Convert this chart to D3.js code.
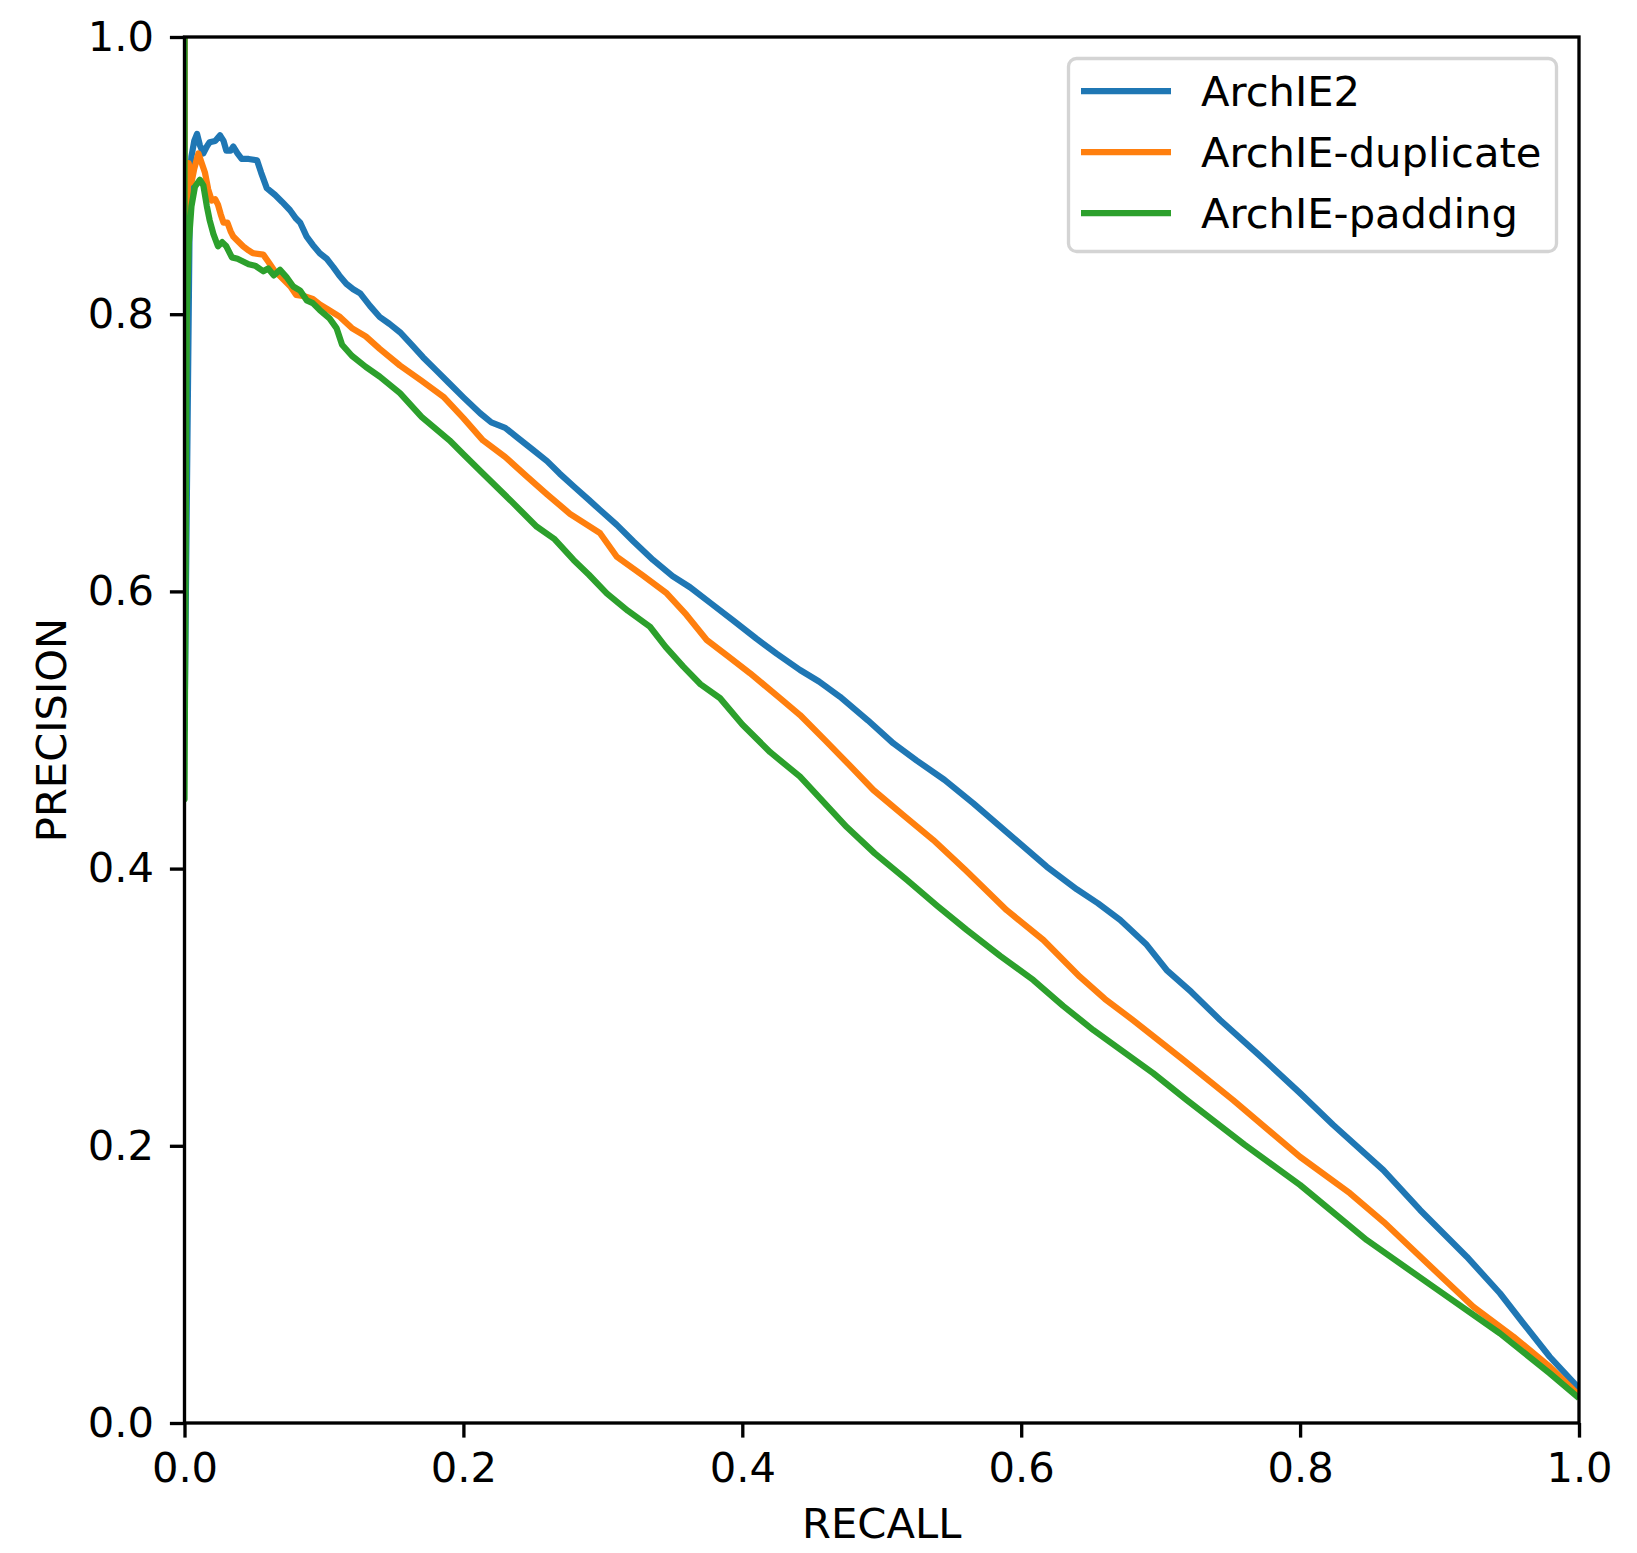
<!DOCTYPE html>
<html>
<head>
<meta charset="utf-8">
<script src="https://cdn.jsdelivr.net/npm/d3@7"></script>
<style>
  body { margin: 0; background: #fff; }
  text { font-family: "DejaVu Sans", sans-serif; fill: #000; }
</style>
</head>
<body>
<div id="chart"></div>
<script>
// series names, legend order
const seriesNames = ['ArchIE2', 'ArchIE-duplicate', 'ArchIE-padding'];
const seriesColors = ['#1f77b4', '#ff7f0e', '#2ca02c'];

// ArchIE2 (recall, precision)
const archie2Recall = [0, 0, 0.004, 0.005, 0.007, 0.009, 0.011, 0.0135, 0.016, 0.018, 0.022, 0.0255, 0.028, 0.030, 0.033, 0.035, 0.038, 0.041, 0.046, 0.052, 0.055, 0.059, 0.065, 0.070, 0.0757, 0.080, 0.083, 0.0876, 0.092, 0.097, 0.102, 0.1067, 0.111, 0.116, 0.121, 0.126, 0.133, 0.140, 0.147, 0.1545, 0.162, 0.171, 0.180, 0.190, 0.200, 0.212, 0.220, 0.230, 0.238, 0.250, 0.260, 0.269, 0.280, 0.290, 0.298, 0.310, 0.322, 0.336, 0.350, 0.3625, 0.378, 0.3935, 0.410, 0.4247, 0.4414, 0.455, 0.470, 0.490, 0.5083, 0.525, 0.545, 0.5657, 0.590, 0.6183, 0.640, 0.655, 0.671, 0.690, 0.7043, 0.722, 0.7426, 0.770, 0.800, 0.8238, 0.8597, 0.886, 0.9195, 0.9433, 0.960, 0.979, 1.0];
const archie2Precision = [1.0, 0.50, 0.90, 0.914, 0.925, 0.930, 0.922, 0.916, 0.921, 0.924, 0.925, 0.929, 0.925, 0.918, 0.918, 0.921, 0.916, 0.912, 0.912, 0.911, 0.902, 0.891, 0.886, 0.881, 0.875, 0.869, 0.866, 0.856, 0.850, 0.844, 0.840, 0.834, 0.828, 0.822, 0.818, 0.815, 0.806, 0.798, 0.793, 0.787, 0.779, 0.769, 0.760, 0.750, 0.740, 0.7285, 0.722, 0.718, 0.7116, 0.702, 0.694, 0.685, 0.675, 0.666, 0.6587, 0.648, 0.636, 0.6227, 0.611, 0.603, 0.591, 0.579, 0.566, 0.555, 0.5433, 0.535, 0.524, 0.507, 0.4904, 0.478, 0.464, 0.4471, 0.426, 0.4014, 0.385, 0.375, 0.3629, 0.345, 0.3268, 0.311, 0.2908, 0.266, 0.238, 0.215, 0.1825, 0.1537, 0.120, 0.0936, 0.072, 0.0478, 0.025];

// ArchIE-duplicate
const duplicateRecall = [0, 0, 0.002, 0.003, 0.005, 0.007, 0.010, 0.012, 0.0147, 0.017, 0.0195, 0.022, 0.024, 0.026, 0.028, 0.0308, 0.033, 0.035, 0.038, 0.042, 0.046, 0.049, 0.0565, 0.060, 0.064, 0.071, 0.076, 0.080, 0.086, 0.092, 0.097, 0.102, 0.1115, 0.120, 0.130, 0.140, 0.1545, 0.170, 0.1856, 0.200, 0.214, 0.230, 0.2454, 0.260, 0.2764, 0.298, 0.310, 0.328, 0.3458, 0.360, 0.3745, 0.390, 0.4055, 0.427, 0.4414, 0.460, 0.4765, 0.494, 0.515, 0.537, 0.560, 0.5896, 0.6159, 0.642, 0.660, 0.680, 0.715, 0.752, 0.800, 0.8358, 0.860, 0.8836, 0.9242, 0.953, 0.979, 1.0];
const duplicatePrecision = [1.0, 0.62, 0.88, 0.909, 0.895, 0.905, 0.916, 0.910, 0.902, 0.890, 0.882, 0.883, 0.879, 0.872, 0.866, 0.866, 0.860, 0.856, 0.853, 0.849, 0.846, 0.844, 0.843, 0.838, 0.832, 0.825, 0.820, 0.814, 0.813, 0.811, 0.807, 0.804, 0.798, 0.790, 0.784, 0.775, 0.763, 0.752, 0.7405, 0.725, 0.709, 0.697, 0.683, 0.670, 0.656, 0.642, 0.625, 0.612, 0.5986, 0.583, 0.565, 0.553, 0.541, 0.523, 0.5108, 0.492, 0.475, 0.4567, 0.439, 0.4206, 0.399, 0.370, 0.3485, 0.322, 0.306, 0.2908, 0.263, 0.233, 0.192, 0.1657, 0.145, 0.1224, 0.0839, 0.0623, 0.0406, 0.020];

// ArchIE-padding
const paddingRecall = [0, 0, 0.0016, 0.003, 0.005, 0.0075, 0.011, 0.0135, 0.016, 0.018, 0.0207, 0.024, 0.027, 0.030, 0.034, 0.038, 0.042, 0.046, 0.0506, 0.0565, 0.060, 0.064, 0.0685, 0.073, 0.078, 0.083, 0.0876, 0.092, 0.097, 0.104, 0.109, 0.113, 0.120, 0.130, 0.140, 0.1545, 0.170, 0.190, 0.200, 0.214, 0.2334, 0.2526, 0.265, 0.279, 0.290, 0.3028, 0.318, 0.3338, 0.345, 0.3577, 0.370, 0.384, 0.400, 0.420, 0.4414, 0.4749, 0.495, 0.518, 0.540, 0.561, 0.585, 0.6087, 0.630, 0.6517, 0.6947, 0.7187, 0.760, 0.800, 0.8478, 0.8955, 0.9433, 0.979, 1.0];
const paddingPrecision = [1.0, 0.45, 0.80, 0.85, 0.878, 0.892, 0.897, 0.893, 0.878, 0.868, 0.858, 0.849, 0.852, 0.849, 0.841, 0.840, 0.838, 0.836, 0.835, 0.831, 0.833, 0.828, 0.832, 0.827, 0.820, 0.817, 0.810, 0.808, 0.803, 0.797, 0.790, 0.778, 0.770, 0.762, 0.755, 0.743, 0.726, 0.709, 0.699, 0.685, 0.666, 0.6467, 0.638, 0.6227, 0.612, 0.5986, 0.586, 0.5745, 0.560, 0.5457, 0.533, 0.523, 0.504, 0.484, 0.4663, 0.430, 0.411, 0.3918, 0.373, 0.3557, 0.337, 0.3196, 0.301, 0.2835, 0.2523, 0.233, 0.201, 0.1717, 0.132, 0.0983, 0.0647, 0.0359, 0.018];

const xTicks = [0, 0.2, 0.4, 0.6, 0.8, 1.0];
const yTicks = [0, 0.2, 0.4, 0.6, 0.8, 1.0];

const series = [
  { name: seriesNames[0], color: seriesColors[0], x: archie2Recall, y: archie2Precision },
  { name: seriesNames[1], color: seriesColors[1], x: duplicateRecall, y: duplicatePrecision },
  { name: seriesNames[2], color: seriesColors[2], x: paddingRecall, y: paddingPrecision }
];

const W = 1637, H = 1553;
const fontSize = 41.67;
const margin = { top: 37, right: 58, bottom: 130, left: 184.5 };
const width = W - margin.left - margin.right;
const height = H - margin.top - margin.bottom;

const svg = d3.select('#chart').append('svg')
  .attr('width', W)
  .attr('height', H);

const g = svg.append('g')
  .attr('transform', `translate(${margin.left}, ${margin.top})`);

const x = d3.scaleLinear().domain([0, 1]).range([0, width]);
const y = d3.scaleLinear().domain([0, 1]).range([height, 0]);

g.append('clipPath').attr('id', 'plotclip')
  .append('rect').attr('width', width).attr('height', height);

// lines
const line = d3.line()
  .x(d => x(d[0]))
  .y(d => y(d[1]));

series.forEach(s => {
  g.append('path')
    .datum(s.x.map((r, i) => [r, s.y[i]]))
    .attr('clip-path', 'url(#plotclip)')
    .attr('fill', 'none')
    .attr('stroke', s.color)
    .attr('stroke-width', 6.25)
    .attr('stroke-linejoin', 'round')
    .attr('d', line);
});

// axes
const fmt = d3.format('.1f');
const xAxis = d3.axisBottom(x).tickValues(xTicks).tickFormat(fmt).tickSize(14.6).tickSizeOuter(0).tickPadding(15);
const yAxis = d3.axisLeft(y).tickValues(yTicks).tickFormat(fmt).tickSize(14.6).tickSizeOuter(0).tickPadding(16);

const gx = g.append('g').attr('transform', `translate(0, ${height})`).call(xAxis);
const gy = g.append('g').call(yAxis);
[gx, gy].forEach(a => {
  a.select('.domain').remove();
  a.selectAll('line').attr('stroke', '#000').attr('stroke-width', 3.33);
  a.selectAll('text').attr('font-size', fontSize).attr('font-family', 'DejaVu Sans');
});

// frame
g.append('rect')
  .attr('width', width).attr('height', height)
  .attr('fill', 'none').attr('stroke', '#000').attr('stroke-width', 3.33)
  .attr('stroke-linecap', 'square');

// axis labels
svg.append('text')
  .attr('x', margin.left + width / 2).attr('y', 1538)
  .attr('text-anchor', 'middle').attr('font-size', fontSize)
  .text('RECALL');

svg.append('text')
  .attr('transform', `translate(66, ${margin.top + height / 2}) rotate(-90)`)
  .attr('text-anchor', 'middle').attr('font-size', fontSize)
  .text('PRECISION');

// legend
const legend = svg.append('g');
legend.append('rect')
  .attr('x', 1068.5).attr('y', 58.5)
  .attr('width', 488).attr('height', 193)
  .attr('rx', 8).attr('ry', 8)
  .attr('fill', 'rgba(255,255,255,0.8)')
  .attr('stroke', '#d4d4d4').attr('stroke-width', 3.33);

series.forEach((s, i) => {
  const ly = 91 + i * 61;
  legend.append('line')
    .attr('x1', 1081).attr('x2', 1171)
    .attr('y1', ly).attr('y2', ly)
    .attr('stroke', s.color).attr('stroke-width', 6.25);
  legend.append('text')
    .attr('x', 1201).attr('y', ly + 15)
    .attr('font-size', fontSize)
    .text(s.name);
});
</script>
</body>
</html>
